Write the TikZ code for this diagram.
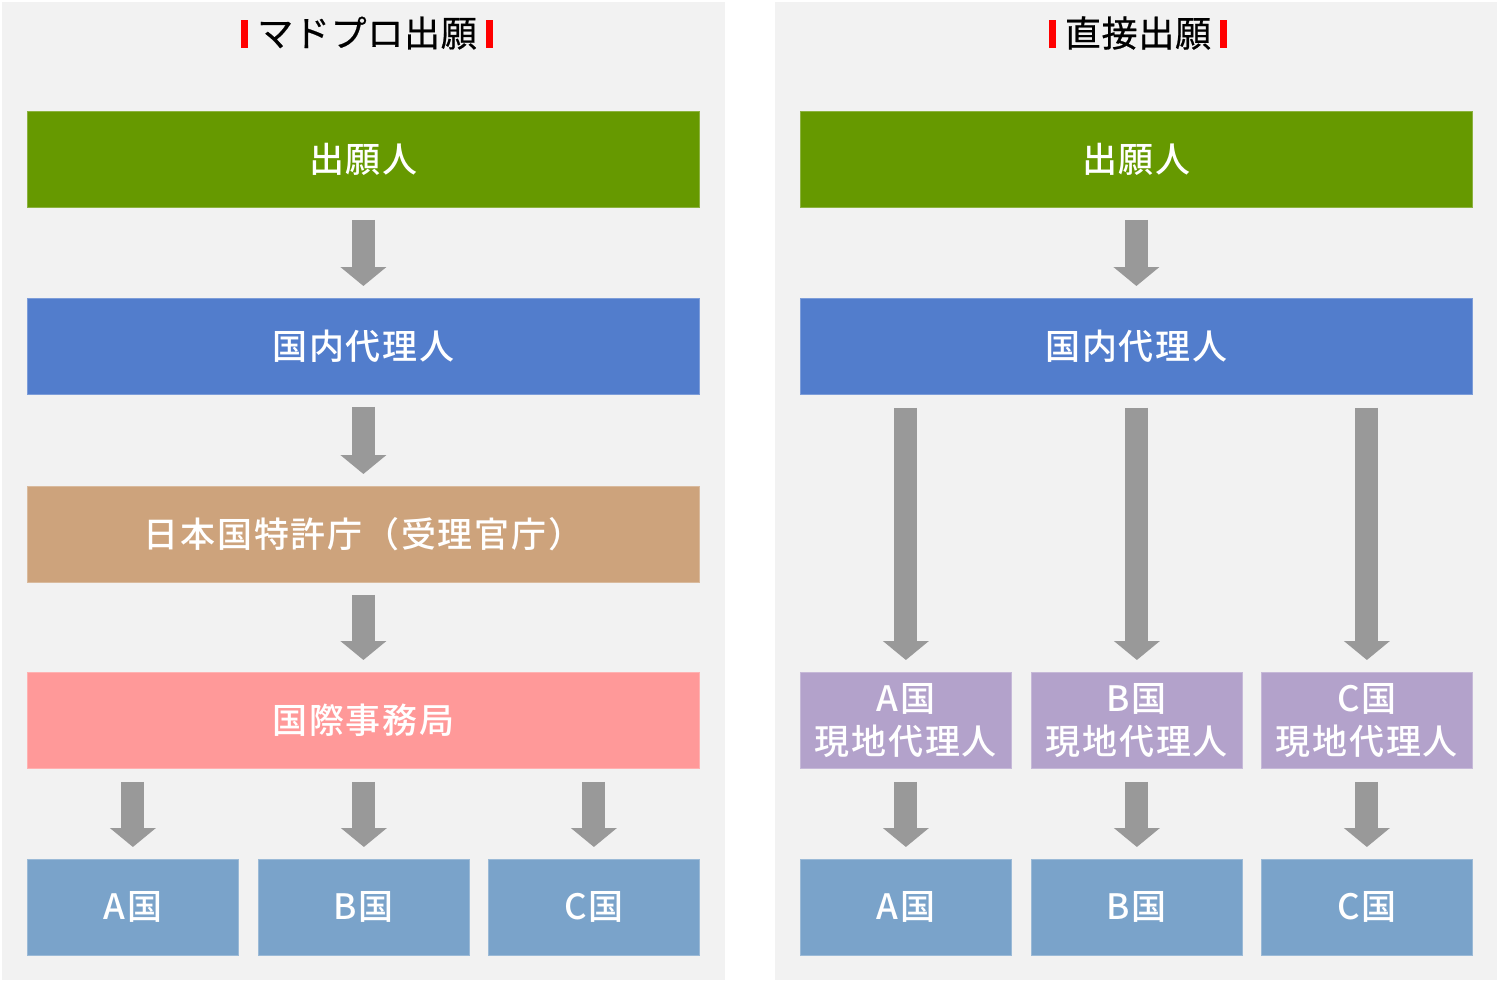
\documentclass[tikz,border=0pt]{standalone}
\usepackage{fontspec}
\setmainfont{Noto Sans CJK JP}
\IfFontExistsTF{Noto Sans CJK JP Medium}
  {\newfontfamily\boxfont{Noto Sans CJK JP Medium}[LetterSpace=5]}
  {\newfontfamily\boxfont{Noto Sans CJK JP}[FakeBold=2,LetterSpace=5]}
\newfontfamily\ttlfont{Noto Sans CJK JP}[LetterSpace=2,FakeBold=0.6]
\usetikzlibrary{arrows.meta,calc}
\definecolor{cgreen}{RGB}{102,153,0}
\definecolor{cblue}{RGB}{82,125,204}
\definecolor{ctan}{RGB}{205,163,124}
\definecolor{cpink}{RGB}{255,153,153}
\definecolor{cpurple}{RGB}{179,162,203}
\definecolor{csteel}{RGB}{122,163,202}
\definecolor{carrow}{RGB}{153,153,153}
\definecolor{cpanel}{RGB}{242,242,242}
\newcommand{\redbar}{{\color{red}\rule[-1pt]{7pt}{28pt}}}
\begin{document}
\begin{tikzpicture}[x=1pt,y=-1pt,
  box/.style={draw=#1!75!white, fill=#1, line width=0.8pt, minimum width=672pt, minimum height=96pt,
    inner sep=0pt, anchor=north west, text=white, align=center,
    font=\boxfont\fontsize{35}{43}\selectfont},
  sbox/.style={box=#1, minimum width=211pt},
  blk/.style={draw=carrow, line width=23pt, -{Triangle[width=45pt,length=19pt]}},
  ttl/.style={font=\ttlfont\fontsize{36}{40}\selectfont, text=black, inner sep=0pt}]
\useasboundingbox (0,0) rectangle (1500,983);
\fill[white] (0,0) rectangle (1500,983);
\fill[cpanel] (2,2) rectangle (725,980);
\fill[cpanel] (775,2) rectangle (1497,980);
% titles
\node[ttl] (ltitle) at (367,33) {\redbar\hspace{9pt}マドプロ出願\hspace{9pt}\redbar};
\node[ttl] (rtitle) at (1138,33) {\redbar\hspace{9pt}直接出願\hspace{9pt}\redbar};
% left column
\node[box=cgreen] (lapp) at (27,111) {出願人};
\node[box=cblue] (ldom) at (27,298) {国内代理人};
\node[box=ctan] (ljpo) at (27,486) {日本国特許庁（受理官庁）};
\node[box=cpink] (lib) at (27,672) {国際事務局};
\node[sbox=csteel] (la) at (27,859) {A国};
\node[sbox=csteel] (lb) at (258,859) {B国};
\node[sbox=csteel] (lc) at (488,859) {C国};
% right column
\node[box=cgreen] (rapp) at (800,111) {出願人};
\node[box=cblue] (rdom) at (800,298) {国内代理人};
\node[sbox=cpurple] (rla) at (800,672) {A国\\現地代理人};
\node[sbox=cpurple] (rlb) at (1031,672) {B国\\現地代理人};
\node[sbox=cpurple] (rlc) at (1261,672) {C国\\現地代理人};
\node[sbox=csteel] (ra) at (800,859) {A国};
\node[sbox=csteel] (rb) at (1031,859) {B国};
\node[sbox=csteel] (rc) at (1261,859) {C国};
% left arrows
\draw[blk] ([yshift=-12pt]lapp.south) -- ([yshift=12pt]ldom.north);
\draw[blk] ([yshift=-12pt]ldom.south) -- ([yshift=12pt]ljpo.north);
\draw[blk] ([yshift=-12pt]ljpo.south) -- ([yshift=12pt]lib.north);
\draw[blk] ([yshift=-13pt]lib.south -| la.north) -- ([yshift=12pt]la.north);
\draw[blk] ([yshift=-13pt]lib.south -| lb.north) -- ([yshift=12pt]lb.north);
\draw[blk] ([yshift=-13pt]lib.south -| lc.north) -- ([yshift=12pt]lc.north);
% right arrows
\draw[blk] ([yshift=-12pt]rapp.south) -- ([yshift=12pt]rdom.north);
\draw[blk] ([yshift=-13pt]rdom.south -| rla.north) -- ([yshift=12pt]rla.north);
\draw[blk] ([yshift=-13pt]rdom.south -| rlb.north) -- ([yshift=12pt]rlb.north);
\draw[blk] ([yshift=-13pt]rdom.south -| rlc.north) -- ([yshift=12pt]rlc.north);
\draw[blk] ([yshift=-13pt]rla.south) -- ([yshift=12pt]ra.north);
\draw[blk] ([yshift=-13pt]rlb.south) -- ([yshift=12pt]rb.north);
\draw[blk] ([yshift=-13pt]rlc.south) -- ([yshift=12pt]rc.north);
\end{tikzpicture}
\end{document}
